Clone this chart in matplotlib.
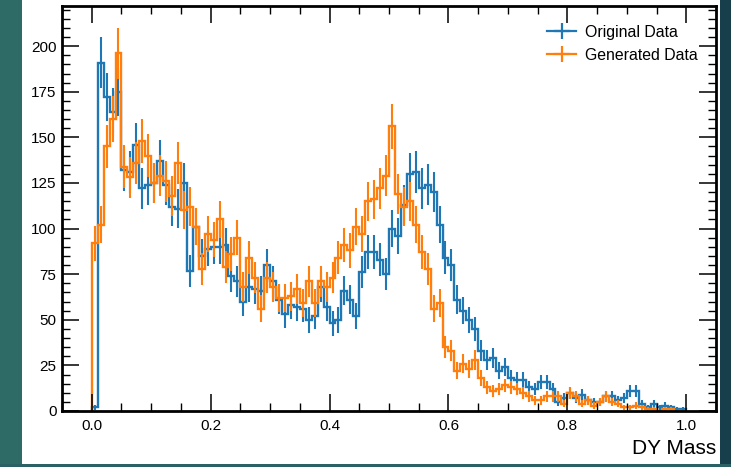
import numpy as np
import matplotlib
matplotlib.use("Agg")
import matplotlib.pyplot as plt
from matplotlib.lines import Line2D
from matplotlib.patches import Rectangle
from matplotlib.ticker import MultipleLocator

# ---------------- data ----------------
bin_edges = np.linspace(0.0, 1.0, 101)

original_counts = [2, 191, 172, 164, 175, 132, 131, 146, 122, 124,
                   125, 137, 124, 112, 111, 125, 77, 101, 85, 89,
                   90, 90, 91, 74, 71, 60, 68, 67, 66, 80,
                   71, 61, 53, 58, 57, 56, 50, 52, 68, 57,
                   48, 50, 66, 61, 52, 76, 87, 87, 83, 75,
                   100, 96, 113, 130, 131, 122, 124, 120, 102, 84,
                   80, 61, 55, 50, 45, 33, 28, 29, 22, 24,
                   18, 17, 17, 13, 12, 16, 16, 12, 5, 7,
                   10, 7, 9, 6, 5, 5, 8, 8, 6, 7,
                   11, 11, 4, 2, 4, 2, 3, 2, 1, 1]

generated_counts = [92, 102, 145, 160, 196, 134, 128, 136, 148, 140,
                    125, 129, 126, 118, 136, 110, 112, 101, 78, 97,
                    94, 105, 79, 86, 95, 68, 84, 73, 56, 73,
                    68, 62, 62, 63, 67, 59, 71, 59, 71, 68,
                    73, 84, 91, 88, 101, 97, 115, 116, 122, 129,
                    156, 119, 112, 115, 102, 87, 78, 56, 59, 35,
                    33, 22, 26, 23, 28, 18, 13, 11, 12, 14,
                    13, 12, 10, 8, 6, 6, 8, 8, 8, 4,
                    10, 8, 4, 6, 3, 5, 8, 5, 4, 2,
                    2, 3, 2, 1, 1, 0, 1, 1, 0, 0]

series_labels = ["Original Data", "Generated Data"]
series_colors = ["#1f77b4", "#ff7f0e"]
x_label = "DY Mass"
x_ticks = [0.0, 0.2, 0.4, 0.6, 0.8, 1.0]
y_ticks = [0, 25, 50, 75, 100, 125, 150, 175, 200]

# ---------------- figure ----------------
plt.rcParams["font.family"] = ["Liberation Sans", "DejaVu Sans"]
W, H = 731, 467
fig = plt.figure(figsize=(W / 100, H / 100), dpi=100)
fig.patch.set_facecolor("white")

# dark surrounding strips of the screenshot
fig.patches.append(Rectangle((0, 0), 22 / W, 1, transform=fig.transFigure,
                             facecolor="#2e6a66", edgecolor="none", zorder=-5))
fig.patches.append(Rectangle((720 / W, 0), 11 / W, 1, transform=fig.transFigure,
                             facecolor="#173e4b", edgecolor="none", zorder=-5))
fig.patches.append(Rectangle((0, 0), 1, 3 / H, transform=fig.transFigure,
                             facecolor="#2b6064", edgecolor="none", zorder=-5))

ax = fig.add_axes([62 / W, 56 / H, 654 / W, 405 / H])

centers = 0.5 * (bin_edges[:-1] + bin_edges[1:])
handles = []
for counts, label, color in zip([original_counts, generated_counts],
                                series_labels, series_colors):
    vals = np.asarray(counts, dtype=float)
    ax.stairs(vals, bin_edges, color=color, linewidth=1.7)
    ax.errorbar(centers, vals, yerr=np.sqrt(vals), fmt="none",
                ecolor=color, elinewidth=1.5)
    handles.append(Line2D([], [], color=color, linewidth=1.6, marker="+",
                          markersize=12, markeredgewidth=1.6, label=label))

ax.set_xlim(-0.05, 1.05)
ax.set_ylim(0, 222)
ax.set_xticks(x_ticks)
ax.set_xticklabels([f"{t:.1f}" for t in x_ticks])
ax.set_yticks(y_ticks)
ax.xaxis.set_minor_locator(MultipleLocator(0.05))
ax.yaxis.set_minor_locator(MultipleLocator(5))
ax.tick_params(which="both", direction="in", top=True, right=True)
ax.tick_params(which="major", length=12, width=1.1, labelsize=11, pad=6)
ax.tick_params(which="minor", length=5.5, width=1.0)
ax.tick_params(axis="y", which="major", pad=4)
for sp in ax.spines.values():
    sp.set_linewidth(2.0)

ax.set_xlabel(x_label, fontsize=15, loc="right", labelpad=4)

ax.legend(handles=handles, loc="upper right", frameon=False, fontsize=11.4,
          handlelength=1.8, handletextpad=0.6, labelspacing=0.5,
          borderaxespad=0.6, bbox_to_anchor=(0.997, 0.9926))

fig.savefig("out.png", dpi=100, facecolor=fig.get_facecolor())
